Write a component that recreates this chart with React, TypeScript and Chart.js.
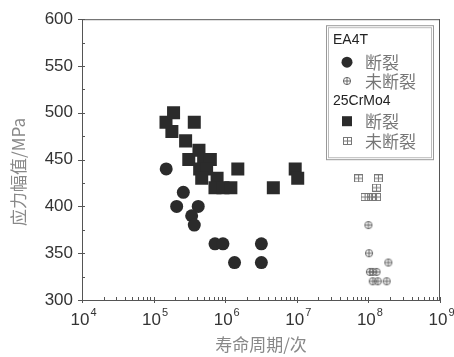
import React, { useEffect, useRef } from "react";
import { Chart, registerables } from "chart.js";

Chart.register(...registerables);

// ---- data ----
const ea4tFracN = [1.5e5, 2.6e5, 2.1e5, 4.2e5, 3.4e5, 3.7e5, 7.2e5, 9.3e5, 1.35e6, 3.2e6, 3.2e6];
const ea4tFracS = [440, 415, 400, 400, 390, 380, 360, 360, 340, 360, 340];

const ea4tRunN = [1.0e8, 1.02e8, 1.9e8, 1.05e8, 1.15e8, 1.3e8, 1.15e8, 1.35e8, 1.8e8];
const ea4tRunS = [380, 350, 340, 330, 330, 330, 320, 320, 320];

const crFracN = [1.49e5, 1.9e5, 1.8e5, 3.7e5, 2.8e5, 3.1e5, 4.3e5, 5.0e5, 6.2e5, 4.4e5, 5.5e5, 4.7e5, 7.7e5, 7.2e5, 9.3e5, 1.2e6, 1.5e6, 4.7e6, 9.5e6, 1.03e7];
const crFracS = [490, 500, 480, 490, 470, 450, 460, 450, 450, 440, 440, 430, 430, 420, 420, 420, 440, 420, 440, 430];

const crRunN = [7.3e7, 1.38e8, 1.3e8, 9.0e7, 1.1e8, 1.3e8];
const crRunS = [430, 430, 420, 410, 410, 410];

const xExponents = [4, 5, 6, 7, 8, 9];
const yTicks = [300, 350, 400, 450, 500, 550, 600];

const xTitle = "寿命周期/次";
const yTitle = "应力幅值/MPa";
const legendGroups = ["EA4T", "25CrMo4"];
const legendFrac = "断裂";
const legendRun = "未断裂";

const DARK = "#2b2b2b";
const HOLLOW = "#666";
const AXIS = "#555";
const CJK = '"Noto Sans CJK SC", sans-serif';
const LATIN = '"Liberation Sans", Arial, sans-serif';

function zip(xs: number[], ys: number[]) {
  return xs.map((x, i) => ({ x, y: ys[i] }));
}

function crossCircle(): HTMLCanvasElement {
  const c = document.createElement("canvas");
  c.width = 10;
  c.height = 10;
  const g = c.getContext("2d")!;
  g.strokeStyle = HOLLOW;
  g.lineWidth = 1;
  g.beginPath();
  g.arc(5, 5, 3.6, 0, Math.PI * 2);
  g.stroke();
  g.beginPath();
  g.moveTo(1.4, 5);
  g.lineTo(8.6, 5);
  g.moveTo(5, 1.4);
  g.lineTo(5, 8.6);
  g.stroke();
  return c;
}

function crossSquare(): HTMLCanvasElement {
  const c = document.createElement("canvas");
  c.width = 9;
  c.height = 8;
  const g = c.getContext("2d")!;
  g.strokeStyle = "#777";
  g.lineWidth = 1;
  g.strokeRect(0.5, 0.5, 8, 7);
  g.beginPath();
  g.moveTo(0.5, 4);
  g.lineTo(8.5, 4);
  g.moveTo(4.5, 0.5);
  g.lineTo(4.5, 7.5);
  g.stroke();
  return c;
}

export default function App() {
  const ref = useRef<HTMLCanvasElement | null>(null);

  useEffect(() => {
    document.body.style.margin = "0";
    const cc = crossCircle();
    const cs = crossSquare();

    const decor = {
      id: "decor",
      afterDraw(chart: any) {
        const ctx = chart.ctx;
        const { left, right, top, bottom } = chart.chartArea;
        const xs = chart.scales.x;
        const ys = chart.scales.y;
        ctx.save();
        ctx.strokeStyle = AXIS;
        ctx.lineWidth = 1;
        // top & right border
        ctx.beginPath();
        ctx.moveTo(left, top + 0.5);
        ctx.lineTo(right, top + 0.5);
        ctx.moveTo(right - 0.5, top);
        ctx.lineTo(right - 0.5, bottom);
        ctx.stroke();
        // y ticks
        ctx.beginPath();
        for (let v = 300; v <= 600; v += 25) {
          const y = Math.round(ys.getPixelForValue(v)) + 0.5;
          if (v % 50 === 0) {
            ctx.moveTo(left - 4, y);
            ctx.lineTo(left + 3, y);
          } else {
            ctx.moveTo(left, y);
            ctx.lineTo(left + 3, y);
          }
        }
        // x ticks
        for (let e = 4; e <= 9; e++) {
          const x = Math.round(xs.getPixelForValue(Math.pow(10, e))) + 0.5;
          ctx.moveTo(x, bottom - 3);
          ctx.lineTo(x, bottom + 3);
          if (e < 9) {
            for (let m = 2; m <= 9; m++) {
              const xm = Math.round(xs.getPixelForValue(m * Math.pow(10, e))) + 0.5;
              ctx.moveTo(xm, bottom);
              ctx.lineTo(xm, bottom - 3);
            }
          }
        }
        ctx.stroke();

        // x tick labels: 10 with superscript exponent
        ctx.fillStyle = "#333";
        ctx.textBaseline = "alphabetic";
        ctx.textAlign = "left";
        for (const e of xExponents) {
          const x = xs.getPixelForValue(Math.pow(10, e));
          ctx.font = `17px ${LATIN}`;
          const w1 = ctx.measureText("10").width;
          ctx.font = `11px ${LATIN}`;
          const w2 = ctx.measureText(String(e)).width;
          const x0 = x - (w1 + w2) / 2 + 1;
          ctx.font = `17px ${LATIN}`;
          ctx.fillText("10", x0, 325);
          ctx.font = `11px ${LATIN}`;
          ctx.fillText(String(e), x0 + w1 + 1, 316);
        }

        // axis titles
        ctx.fillStyle = "#888";
        ctx.font = `17px ${CJK}`;
        ctx.textAlign = "center";
        ctx.textBaseline = "middle";
        ctx.fillText(xTitle, (left + right) / 2, 345);
        ctx.save();
        ctx.translate(19, 172);
        ctx.rotate(-Math.PI / 2);
        ctx.fillText(yTitle, 0, 0);
        ctx.restore();

        // legend
        const bx = right - 114;
        const by = top + 6;
        const bw = 107;
        const bh = 134;
        ctx.strokeStyle = "#999";
        ctx.lineWidth = 1;
        ctx.strokeRect(bx + 0.5, by + 0.5, bw, bh);
        ctx.strokeStyle = "#bbb";
        ctx.strokeRect(bx + 2.5, by + 2.5, bw - 4, bh - 4);

        const mx = bx + 21;
        const tx = bx + 39;
        const rows = [by + 15, by + 37, by + 56, by + 76, by + 96, by + 116];
        ctx.textAlign = "left";
        ctx.textBaseline = "middle";
        for (let gi = 0; gi < 2; gi++) {
          const r0 = rows[gi * 3];
          ctx.fillStyle = "#222";
          ctx.font = `14px ${LATIN}`;
          ctx.fillText(legendGroups[gi], bx + 7, r0);
          ctx.fillStyle = DARK;
          if (gi === 0) {
            ctx.beginPath();
            ctx.arc(mx, rows[1], 5.5, 0, Math.PI * 2);
            ctx.fill();
          } else {
            ctx.fillRect(mx - 5, rows[4] - 5, 10, 10);
          }
          ctx.fillStyle = "#777";
          ctx.font = `17px ${CJK}`;
          ctx.fillText(legendFrac, tx, rows[gi * 3 + 1]);
          const img = gi === 0 ? cc : cs;
          ctx.drawImage(img, Math.round(mx - img.width / 2), Math.round(rows[gi * 3 + 2] - img.height / 2));
          ctx.fillText(legendRun, tx, rows[gi * 3 + 2]);
        }
        ctx.restore();
      },
    };

    const chart = new Chart(ref.current!, {
      type: "scatter",
      data: {
        datasets: [
          {
            label: "EA4T 断裂",
            data: zip(ea4tFracN, ea4tFracS),
            pointStyle: "circle",
            pointRadius: 6.5,
            backgroundColor: DARK,
            borderColor: DARK,
            borderWidth: 0,
          },
          {
            label: "EA4T 未断裂",
            data: zip(ea4tRunN, ea4tRunS),
            pointStyle: cc as any,
            pointRadius: 4,
          },
          {
            label: "25CrMo4 断裂",
            data: zip(crFracN, crFracS),
            pointStyle: "rect",
            pointRadius: 9.2,
            backgroundColor: DARK,
            borderColor: DARK,
            borderWidth: 0,
          },
          {
            label: "25CrMo4 未断裂",
            data: zip(crRunN, crRunS),
            pointStyle: cs as any,
            pointRadius: 4,
          },
        ],
      },
      options: {
        animation: false,
        responsive: false,
        events: [],
        layout: { padding: { top: 16, right: 14, left: 0, bottom: 0 } },
        plugins: { legend: { display: false }, tooltip: { enabled: false } },
        scales: {
          x: {
            type: "logarithmic",
            min: 1e4,
            max: 1e9,
            grid: { display: false, drawTicks: false },
            border: { display: true, color: AXIS },
            afterBuildTicks: (s: any) => {
              s.ticks = xExponents.map((e) => ({ value: Math.pow(10, e) }));
            },
            afterFit: (s: any) => {
              s.height = 57;
            },
            ticks: {
              display: false,
            },
          },
          y: {
            min: 300,
            max: 600,
            grid: { display: false, drawTicks: false },
            border: { display: true, color: AXIS },
            afterBuildTicks: (s: any) => {
              s.ticks = yTicks.map((v) => ({ value: v }));
            },
            afterFit: (s: any) => {
              s.width = 82;
            },
            ticks: {
              padding: 9,
              color: "#333",
              font: { family: LATIN, size: 17 },
            },
          },
        },
      },
      plugins: [decor],
    });
    return () => chart.destroy();
  }, []);

  return (
    <div style={{ width: 454, height: 357 }}>
      <canvas ref={ref} width={454} height={357} />
    </div>
  );
}
